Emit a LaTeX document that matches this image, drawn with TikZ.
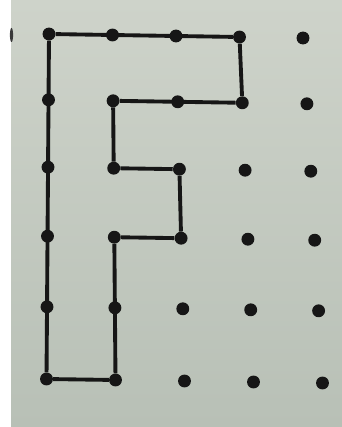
\documentclass[tikz,border=0pt]{standalone}
\usetikzlibrary{calc}
\definecolor{paper}{HTML}{CED3CA}
\definecolor{paperlow}{HTML}{B8C0B6}
\definecolor{ink}{HTML}{161616}
\tikzset{
    dot/.style={circle,fill=ink,inner sep=0pt,minimum size=11pt},
    fline/.style={draw=ink,line width=3.3pt,line join=round}
}

\begin{document}
\begin{tikzpicture}[x=0.03cm,y=-0.03cm]
    \useasboundingbox (0,0) rectangle (342,427);
    \fill[white] (0,0) rectangle (11,427);
    \shade[top color=paper,bottom color=paperlow] (11,0) rectangle (342,427);
    \fill[ink!85] (11.5,35) ellipse (1.6 and 7);
    % dot grid, 5 columns by 6 rows, a little skewed like the photo
    \foreach \j in {0,...,5}
        \foreach \i in {0,...,4}
            \node[dot] (p\i\j) at ({49-0.5*\j+\i*(63.5+1.1*\j)},{34+65*\j+0.8*\j*\j+\i}) {};
    % the letter F
    \draw[fline] (p00) -- (p30) -- (p31) -- (p11) -- (p12) -- (p22) -- (p23)
        -- (p13) -- (p15) -- (p05) -- (p00);
\end{tikzpicture}
\end{document}
